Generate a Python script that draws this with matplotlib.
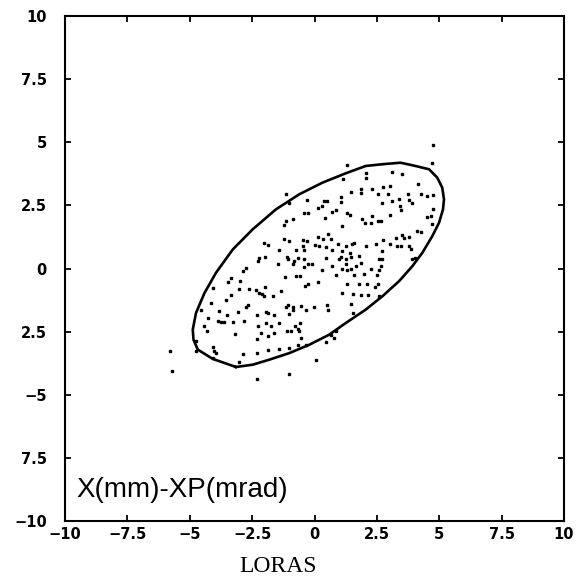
import matplotlib
matplotlib.use("Agg")
import numpy as np
import matplotlib.pyplot as plt

# ---- data ----
# emittance contour (x [mm], xp [mrad])
ell_x = [-3.15, -4.08, -4.68, -4.85, -4.88, -4.75, -4.41, -3.95, -3.28, -2.48,
         -1.55, -0.61, 0.32, 1.25, 2.05, 2.72, 3.45, 4.05, 4.59, 4.92,
         5.12, 5.19, 5.15, 4.99, 4.72, 4.32, 3.92, 3.39, 2.72, 2.05,
         1.25, 0.59, -0.21, -1.01, -1.81, -2.48, -3.15]
ell_y = [-3.90, -3.58, -3.21, -2.82, -2.42, -1.76, -0.97, -0.17, 0.75, 1.55,
         2.34, 2.94, 3.40, 3.77, 4.06, 4.13, 4.19, 4.06, 3.93, 3.60,
         3.20, 2.74, 2.34, 1.81, 1.28, 0.62, 0.09, -0.50, -1.10, -1.63,
         -2.16, -2.62, -3.02, -3.35, -3.61, -3.81, -3.90]

# particles
pts_x = [1.32, 4.72, 2.05, 3.12, 3.49, 2.08, 1.16, -1.15, 4.16, 2.75,
         3.01, 1.48, 1.88, 2.32, 2.95, 3.76, 4.28, 4.52, 4.75, 1.05,
         1.05, 1.85, 2.56, 3.39, 3.79, 3.92, -0.32, 0.39, 0.52, -1.01,
         0.13, 0.32, 0.85, 0.72, 1.32, 1.41, 3.43, 3.48, 4.75, 2.72,
         3.12, -0.41, -0.28, -0.88, -1.15, 0.41, 1.89, 2.32, 2.55, 2.03,
         2.25, 2.68, 3.01, 4.52, 4.68, 4.72, 1.12, -1.21, 0.55, 0.12,
         0.36, 0.01, 0.65, 0.96, 1.52, -0.48, -0.31, -1.23, -1.01, -2.01,
         -1.88, -1.41, -0.48, -0.75, 0.19, 0.45, 0.72, 1.12, 1.25, 1.41,
         1.59, 2.05, 2.45, 2.75, 3.01, 3.25, 3.49, 3.59, 3.79, 4.12,
         4.25, 2.72, 2.59, 2.69, 3.32, 3.45, 3.79, 3.88, 4.03, 3.89,
         -2.21, -2.25, -1.97, -1.12, -1.08, -0.68, -0.81, -0.41, -0.41, 0.45,
         0.99, 1.07, 1.25, 1.45, 1.79, 1.25, 1.65, 1.85, -1.48, -0.88,
         -0.41, -0.28, -0.11, 0.29, 0.72, 1.12, 1.32, 1.45, 2.25, 2.59,
         2.65, 2.52, 1.99, 1.59, 0.85, -0.75, -0.59, -1.17, -2.75, -2.88,
         -3.35, -3.48, -4.08, -2.97, -0.28, -0.37, 0.12, 1.32, 1.79, 2.12,
         2.56, 2.43, -2.61, -2.35, -2.21, -2.12, -1.97, -2.01, -1.68, -1.35,
         -3.01, -3.35, -3.55, 1.12, 1.56, 1.85, 2.15, 2.59, -1.95, -2.68,
         -2.75, -4.15, -3.05, -2.32, -1.85, -1.64, -1.08, -1.15, -0.88, -0.88,
         -0.55, -0.35, -0.01, 0.52, 0.56, 1.45, 1.56, -4.55, -4.28, -4.31,
         -4.41, -3.81, -3.88, -3.75, -3.64, -3.52, -3.28, -2.84, -2.28, -1.95,
         -1.75, -1.44, -1.01, -0.95, -0.77, -0.68, -1.12, -0.64, -0.59, 0.85,
         0.65, -3.17, -2.32, -2.15, -1.88, -1.61, -0.55, 0.45, 0.79, -4.75,
         -4.75, -4.08, -4.04, -3.95, -2.88, -2.32, -1.88, -1.41, -1.01, -0.68,
         -0.35, 0.05, -3.01, -4.08, -2.32, -1.01, -5.78, -5.70, 4.74]
pts_y = [4.10, 4.17, 3.80, 3.82, 3.74, 3.60, 3.56, 2.96, 3.33, 3.24,
         3.27, 3.04, 3.13, 3.13, 2.96, 2.94, 2.96, 2.86, 2.91, 2.83,
         2.65, 3.00, 2.94, 2.74, 2.71, 2.61, 2.70, 2.67, 2.67, 2.58,
         2.39, 2.47, 2.30, 2.25, 2.21, 2.10, 2.47, 2.30, 2.37, 2.61,
         2.67, 2.21, 2.21, 1.98, 1.88, 2.02, 1.98, 2.08, 1.88, 1.81,
         1.79, 1.88, 2.10, 2.04, 2.08, 1.75, 1.68, 1.71, 1.35, 1.26,
         1.15, 0.95, 1.15, 0.98, 0.98, 1.11, 1.08, 1.18, 1.08, 1.02,
         0.95, 0.75, 0.89, 0.75, 0.91, 0.86, 0.73, 0.69, 0.89, 0.60,
         1.02, 0.89, 0.99, 1.12, 0.98, 1.22, 1.31, 1.22, 1.26, 1.48,
         1.44, 0.69, 0.36, 0.36, 0.89, 0.91, 0.89, 0.79, 0.42, 0.36,
         0.42, 0.29, 0.46, 0.45, 0.38, 0.41, 0.29, 0.75, 0.36, 0.42,
         0.36, 0.46, 0.36, 0.46, 0.49, 0.16, 0.09, 0.22, 0.16, 0.16,
         0.05, 0.16, 0.16, -0.04, 0.09, -0.01, -0.04, -0.01, -0.01, -0.07,
         0.09, -0.24, -0.21, -0.24, -0.24, -0.28, -0.28, -0.33, 0.03, -0.11,
         -0.37, -0.53, -0.77, -0.50, -0.63, -0.70, -0.54, -0.61, -0.63, -0.63,
         -0.63, -0.74, -0.81, -0.86, -0.97, -0.99, -0.73, -1.10, -1.10, -0.90,
         -0.83, -1.06, -1.23, -0.97, -1.01, -1.03, -1.06, -1.10, -1.73, -1.46,
         -1.52, -1.36, -1.71, -1.84, -1.76, -1.83, -1.46, -1.53, -1.53, -1.63,
         -1.49, -1.65, -1.52, -1.43, -1.63, -1.39, -1.76, -1.65, -1.96, -2.46,
         -2.29, -1.69, -2.09, -2.12, -2.12, -1.83, -2.13, -2.08, -2.29, -2.16,
         -2.29, -2.16, -1.79, -2.49, -2.26, -2.39, -2.49, -2.49, -2.16, -2.49,
         -2.62, -2.58, -2.79, -2.55, -2.69, -2.55, -2.75, -2.92, -2.75, -2.88,
         -3.28, -3.12, -3.28, -3.35, -3.37, -3.35, -3.21, -3.19, -3.15, -3.02,
         -3.02, -3.64, -3.69, -3.54, -4.38, -4.18, -3.25, -4.05, 4.88]

ticks = [-10, -7.5, -5, -2.5, 0, 2.5, 5, 7.5, 10]
xtick_labels = ["\u221210", "\u22127.5", "\u22125", "\u22122.5", "0", "2.5", "5", "7.5", "10"]
# as printed on the original (some minus signs lost)
ytick_labels = ["\u221210", "7.5", "\u22125", "2.5", "0", "2.5", "5", "7.5", "10"]

############################
# PLOT
############################

fig = plt.figure(figsize=(5.79, 5.82), dpi=100)
ax = fig.add_axes([0.1123, 0.1048, 0.8618, 0.8677])

ax.plot(pts_x, pts_y, ls="none", marker="s", ms=1.5, mec="black", mfc="black")
ax.plot(ell_x, ell_y, color="black", lw=1.9, solid_joinstyle="round")

ax.set_xlim(-10, 10)
ax.set_ylim(-10, 10)
ax.set_xticks(ticks)
ax.set_yticks(ticks)
ax.set_xticklabels(xtick_labels, fontweight="bold", fontsize=10.5)
ax.set_yticklabels(ytick_labels, fontweight="bold", fontsize=10.5)
ax.tick_params(direction="in", top=True, right=True, length=4, width=1.3)
ax.tick_params(axis="x", pad=4)
ax.tick_params(axis="y", pad=13)
for sp in ax.spines.values():
    sp.set_linewidth(1.5)

ax.text(-9.55, -8.77, "X(mm)-XP(mrad)", ha="left", va="center",
        fontsize=20, family=["Liberation Sans", "DejaVu Sans"])

fig.text(0.480, 0.026, "LORAS", ha="center", va="center",
         fontsize=17, family=["Liberation Serif", "DejaVu Serif"])

fig.savefig("out.png", dpi=100)
